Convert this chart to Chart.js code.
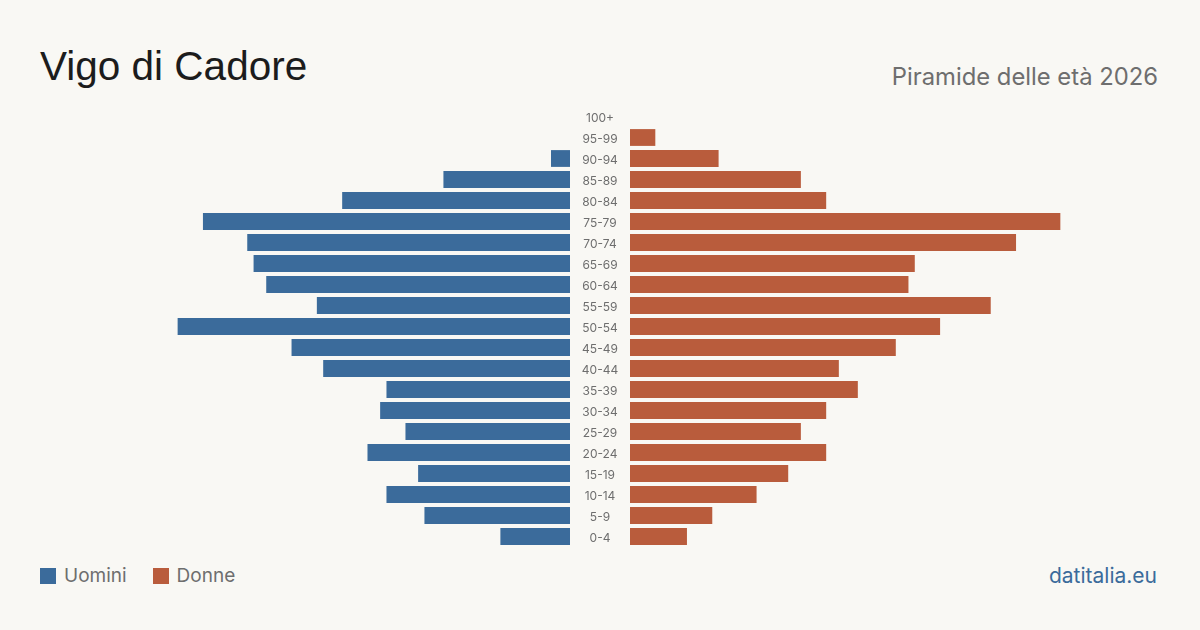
<!DOCTYPE html>
<html>
<head>
<meta charset="utf-8">
<script src="https://cdn.jsdelivr.net/npm/chart.js@4/dist/chart.umd.min.js"></script>
<style>
  html, body { margin:0; padding:0; background:#f9f8f4; }
  body { width:1200px; height:630px; position:relative; overflow:hidden; font-family: Inter, "Liberation Sans", sans-serif; }
  #title { position:absolute; left:40px; top:42px; font-family:"Liberation Sans", Arial, sans-serif; font-size:40.5px; color:#1c1c1c; line-height:48px; white-space:nowrap; }
  #subtitle { position:absolute; right:42px; top:62px; font-size:23.8px; color:#6e6e6e; line-height:30px; white-space:nowrap; }
  #legend { position:absolute; left:40px; top:564px; font-size:19px; color:#6e6e6e; display:flex; align-items:center; white-space:nowrap; }
  #legend .sw { width:16px; height:16px; display:inline-block; margin-right:8px; }
  #legend .item { display:flex; align-items:center; margin-right:26px; line-height:24px; }
  #footer { position:absolute; right:43px; top:562px; font-size:21px; color:#3b6b9b; line-height:28px; white-space:nowrap; }
  .box { position:absolute; }
</style>
</head>
<body>
<div id="title">Vigo di Cadore</div>
<div id="subtitle">Piramide delle età 2026</div>
<div id="legend">
  <span class="item"><span class="sw" style="background:#3b6b9b"></span>Uomini</span>
  <span class="item"><span class="sw" style="background:#b95c3c"></span>Donne</span>
</div>
<div id="footer">datitalia.eu</div>
<div class="box" id="leftBox" style="left:127px; top:106px; width:443px; height:441px;"><canvas id="left"></canvas></div>
<div class="box" id="rightBox" style="left:570px; top:106px; width:503px; height:441px;"><canvas id="right"></canvas></div>
<script>
const ageGroups = ["100+","95-99","90-94","85-89","80-84","75-79","70-74","65-69","60-64","55-59","50-54","45-49","40-44","35-39","30-34","25-29","20-24","15-19","10-14","5-9","0-4"];
const men   = [0, 0, 3, 20, 36, 58, 51, 50, 48, 40, 62, 44, 39, 29, 30, 26, 32, 24, 29, 23, 11];
const women = [0, 4, 14, 27, 31, 68, 61, 45, 44, 57, 49, 42, 33, 36, 31, 27, 31, 25, 20, 13, 9];
const axisMax = 70;
const menColor = "#3b6b9b";
const womenColor = "#b95c3c";

const common = {
  indexAxis: 'y',
  responsive: true,
  maintainAspectRatio: false,
  animation: false,
  plugins: { legend: { display:false }, tooltip: { enabled:false } }
};

// draws the age-group labels (from the category scale) centred in the gap between halves
const centerLabels = {
  id: 'centerLabels',
  afterDraw(chart) {
    const ctx = chart.ctx;
    const y = chart.scales.y;
    const cx = chart.chartArea.left - 30;
    ctx.save();
    ctx.font = '12px Inter';
    ctx.fillStyle = '#6e6e6e';
    ctx.textAlign = 'center';
    ctx.textBaseline = 'middle';
    chart.data.labels.forEach((lab, i) => {
      ctx.fillText(lab, cx, y.getPixelForValue(i) + 1.5);
    });
    ctx.restore();
  }
};

new Chart(document.getElementById('left'), {
  type: 'bar',
  data: { labels: ageGroups, datasets: [{ label:'Uomini', data: men, backgroundColor: menColor, barPercentage: 0.8, categoryPercentage: 1.0 }] },
  options: Object.assign({}, common, {
    layout: { padding: 0 },
    scales: {
      x: { reverse: true, min: 0, max: axisMax, display: false },
      y: { display: false, offset: true }
    }
  })
});

new Chart(document.getElementById('right'), {
  type: 'bar',
  data: { labels: ageGroups, datasets: [{ label:'Donne', data: women, backgroundColor: womenColor, barPercentage: 0.8, categoryPercentage: 1.0 }] },
  options: Object.assign({}, common, {
    layout: { padding: { left: 60, right: 0, top: 0, bottom: 0 } },
    scales: {
      x: { min: 0, max: axisMax, display: false },
      y: { display: false, offset: true }
    }
  }),
  plugins: [centerLabels]
});
</script>
</body>
</html>
